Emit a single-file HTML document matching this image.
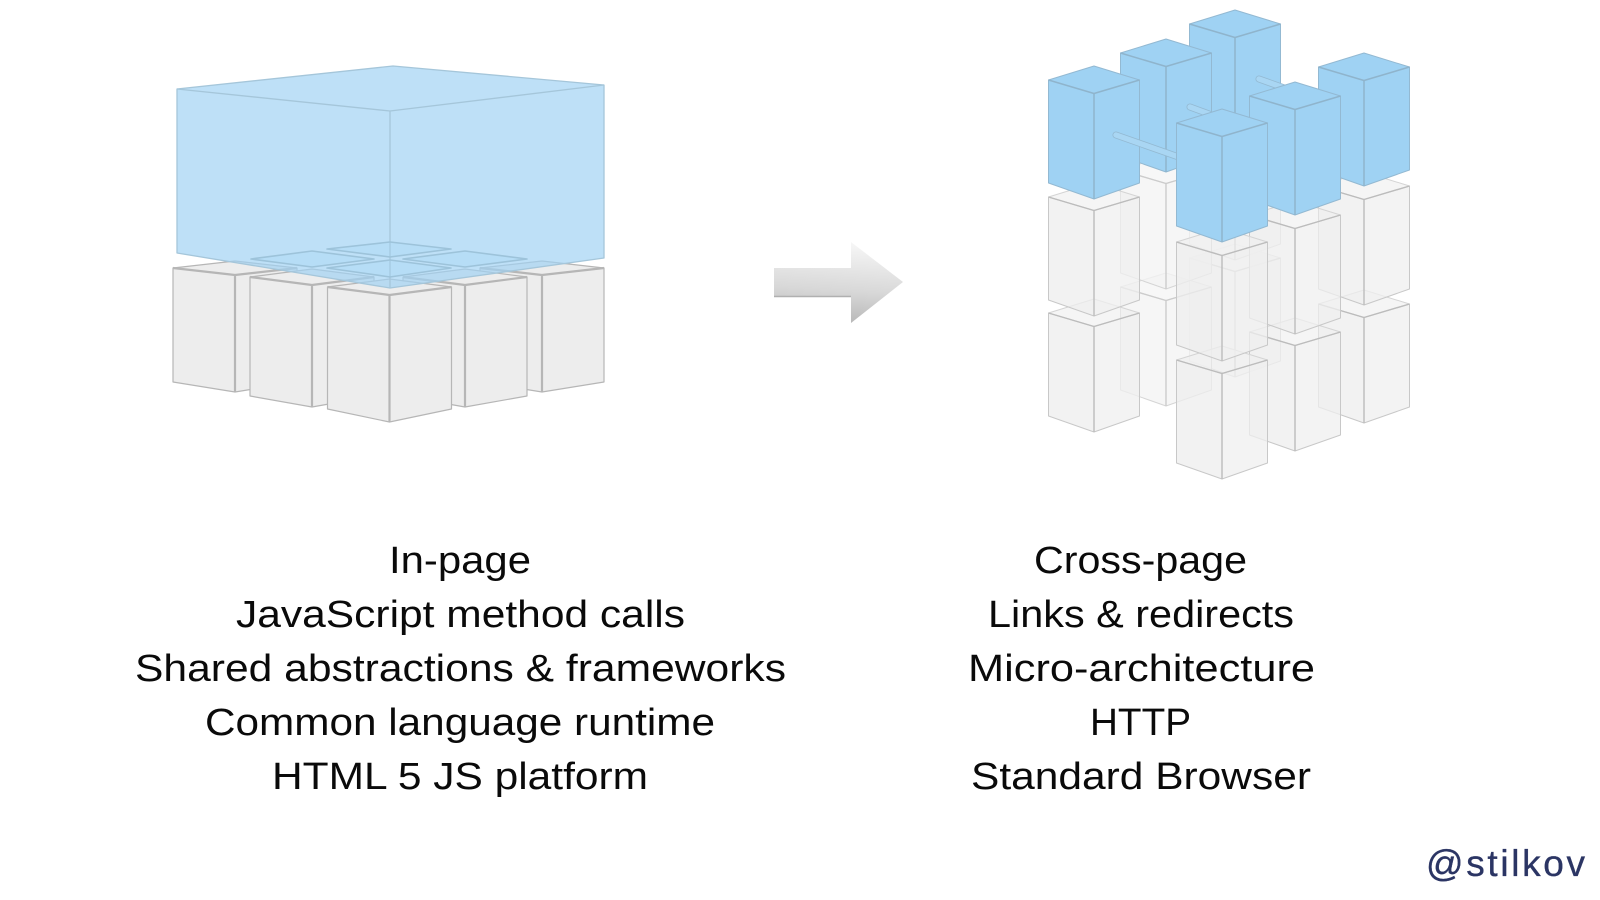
<!DOCTYPE html>
<html><head><meta charset="utf-8"><style>
html,body{margin:0;padding:0;background:#fff;width:1600px;height:900px;overflow:hidden}
svg{display:block}
text{font-family:"Liberation Sans",sans-serif;font-size:38px;fill:#0a0a0a}
</style></head><body>
<svg width="1600" height="900" viewBox="0 0 1600 900" xmlns="http://www.w3.org/2000/svg">
<defs>
<linearGradient id="ag" x1="0.6" y1="0" x2="0.5" y2="1"><stop offset="0" stop-color="#f7f7f7"/><stop offset="0.6" stop-color="#d8d8d8"/><stop offset="1" stop-color="#b8b8b8"/></linearGradient>
<g id="gb" stroke-linejoin="round">
<path d="M-45.5 14L0 27.5V133L-45.5 117Z" fill="#eeeeee" fill-opacity=".75" stroke="#c8c8c8" stroke-width="1"/>
<path d="M45.5 14L0 27.5V133L45.5 117Z" fill="#efefef" fill-opacity=".75" stroke="#c8c8c8" stroke-width="1"/>
<path d="M-45.5 14L0 0L45.5 14L0 27.5Z" fill="#efefef" fill-opacity=".6" stroke="#d4d4d4" stroke-width="1"/>
<path d="M-45.5 14L0 27.5L45.5 14M0 27.5V133" fill="none" stroke="#bcbcbc" stroke-width="1.4"/>
</g>
<g id="bb" stroke-linejoin="round">
<path d="M-45.5 14L0 0L45.5 14V117L0 133L-45.5 117Z" fill="#9fd2f3" stroke="#93b9d2" stroke-width="1"/>
<path d="M-45.5 14L0 27.5L45.5 14M0 27.5V133" fill="none" stroke="#8fb4cc" stroke-width="1.5"/>
</g>
<g id="lbA" stroke-linejoin="round">
<path d="M-62 7L0 0L62 7V121L0 131L-62 121Z" fill="#ededed" stroke="#b6b6b6" stroke-width="1.2"/>
<path d="M-62 7L0 14L62 7M0 14V131" fill="none" stroke="#b6b6b6" stroke-width="2.2"/>
</g>
<g id="lbB" stroke-linejoin="round">
<path d="M-62 8L0 0L62 8V127L0 138L-62 127Z" fill="#ededed" stroke="#b6b6b6" stroke-width="1.2"/>
<path d="M-62 8L0 16L62 8M0 16V138" fill="none" stroke="#b6b6b6" stroke-width="2.2"/>
</g>
<g id="lbC" stroke-linejoin="round">
<path d="M-62 8L0 0L62 8V130L0 143L-62 130Z" fill="#ededed" stroke="#b6b6b6" stroke-width="1.2"/>
<path d="M-62 8L0 16L62 8M0 16V143" fill="none" stroke="#b6b6b6" stroke-width="2.2"/>
</g>
</defs>

<!-- left: grey boxes -->
<use href="#lbA" x="235" y="261"/>
<use href="#lbA" x="542" y="261"/>
<use href="#lbB" x="312" y="269"/>
<use href="#lbB" x="465" y="269"/>
<use href="#lbC" x="389.500" y="279"/>

<!-- left: big blue box -->
<path d="M177 89L393 66L604 85V258L390 288L177 253Z" fill="#9fd2f3" fill-opacity=".68"/>
<g fill="none" stroke="#a5c6da" stroke-width="1.3" stroke-linejoin="round">
<path d="M177 89L393 66L604 85V258L390 288L177 253Z"/>
<path d="M177 89L390 111L604 85M390 111V288"/>
</g>
<g fill="#9fd2f3" fill-opacity=".25" stroke="#9dc3da" stroke-width="1.6" stroke-linejoin="round">
<path d="M327 249L390 242L451 249L390 257Z"/>
<path d="M251 259L312 251L374 259L312 267Z"/>
<path d="M403 259L465 251L527 259L465 267Z"/>
<path d="M327 268L390 260L451 268L390 277Z"/>
</g>

<!-- arrow -->
<path d="M774 268H851V242L903 282L851 323V296H774Z" fill="url(#ag)"/>
<path d="M774 296.500H851" stroke="#b0b0b0" stroke-width="1.500"/>

<!-- right: grey towers, back to front -->
<g opacity=".75">
<use href="#gb" x="1235" y="244"/>
<use href="#gb" x="1235" y="127"/>
<use href="#gb" x="1166" y="273"/>
<use href="#gb" x="1166" y="156"/>
</g>
<use href="#gb" x="1364" y="290"/>
<use href="#gb" x="1364" y="172"/>
<use href="#gb" x="1094" y="299"/>
<use href="#gb" x="1094" y="183"/>
<use href="#gb" x="1295" y="318"/>
<use href="#gb" x="1295" y="201"/>
<use href="#gb" x="1222" y="346"/>
<use href="#gb" x="1222" y="228"/>

<!-- right: blue towers and connectors -->
<use href="#bb" x="1235" y="10"/>
<path d="M1259 79L1290 90" stroke="#93b9d2" stroke-width="7" stroke-linecap="round"/>
<path d="M1259 79L1290 90" stroke="#a9d6f3" stroke-width="5.400" stroke-linecap="round"/>
<use href="#bb" x="1166" y="39"/>
<path d="M1190 107L1220 118" stroke="#93b9d2" stroke-width="7" stroke-linecap="round"/>
<path d="M1190 107L1220 118" stroke="#a9d6f3" stroke-width="5.400" stroke-linecap="round"/>
<use href="#bb" x="1364" y="53"/>
<use href="#bb" x="1094" y="66"/>
<path d="M1116 135L1190 161" stroke="#93b9d2" stroke-width="7" stroke-linecap="round"/>
<path d="M1116 135L1190 161" stroke="#a9d6f3" stroke-width="5.400" stroke-linecap="round"/>
<use href="#bb" x="1295" y="82"/>
<use href="#bb" x="1222" y="109"/>

<!-- text -->
<text x="389" y="573" textLength="142" lengthAdjust="spacingAndGlyphs">In-page</text>
<text x="236" y="627" textLength="449" lengthAdjust="spacingAndGlyphs">JavaScript method calls</text>
<text x="135" y="681" textLength="651" lengthAdjust="spacingAndGlyphs">Shared abstractions &amp; frameworks</text>
<text x="205" y="735" textLength="510" lengthAdjust="spacingAndGlyphs">Common language runtime</text>
<text x="272" y="789" textLength="376" lengthAdjust="spacingAndGlyphs">HTML 5 JS platform</text>
<text x="1034" y="573" textLength="213" lengthAdjust="spacingAndGlyphs">Cross-page</text>
<text x="988" y="627" textLength="306" lengthAdjust="spacingAndGlyphs">Links &amp; redirects</text>
<text x="968" y="681" textLength="347" lengthAdjust="spacingAndGlyphs">Micro-architecture</text>
<text x="1090" y="735" textLength="101" lengthAdjust="spacingAndGlyphs">HTTP</text>
<text x="971" y="789" textLength="340" lengthAdjust="spacingAndGlyphs">Standard Browser</text>
<text x="1426" y="876" textLength="159" lengthAdjust="spacing" style="fill:#2b3564;font-size:37px;stroke:#2b3564;stroke-width:.35">@stilkov</text>
</svg>
</body></html>
